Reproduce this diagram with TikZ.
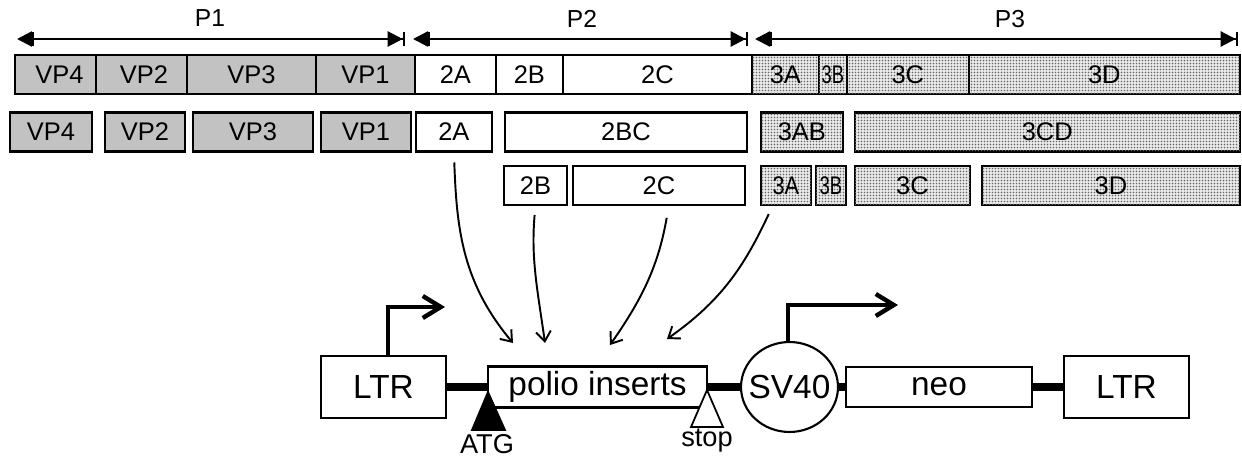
\documentclass[tikz,border=0pt]{standalone}
\usepackage{fontspec}
\setmainfont{Liberation Sans}
\usepackage{graphicx}
\usetikzlibrary{arrows.meta,positioning,calc,patterns.meta,shapes.geometric}
\definecolor{Capsid}{HTML}{C2C2C2}
\definecolor{Dotbg}{HTML}{EAEAEA}
\tikzdeclarepattern{
    name=finedots, type=uncolored,
    bounding box={(0,0) and (1.7pt,1.7pt)},
    tile size={(1.7pt,1.7pt)},
    code={\fill (0.85pt,0.85pt) circle (0.45pt);}
}
\tikzset{
    every node/.style={font=\fontsize{14.5}{16}\selectfont},
    segbox/.style={
        draw=black, line width=1.3pt, fill=white,
        minimum height=0.78cm, inner sep=0pt, outer sep=0pt,
        anchor=west
    },
    capsid/.style={segbox, fill=Capsid},
    nonstruct/.style={segbox},
    replic/.style={segbox, fill=Dotbg,
        postaction={pattern=finedots, pattern color=black!60}},
    spanarrow/.style={
        {Triangle[length=0.3cm,width=0.3cm]Bar[width=0.28cm]}-{Triangle[length=0.3cm,width=0.3cm]Bar[width=0.28cm]},
        line width=1.3pt
    },
    spanlabel/.style={font=\fontsize{14}{15}\selectfont},
    vecbox/.style={
        draw=black, line width=1.2pt, fill=white, inner sep=0pt,
        font=\fontsize{19}{20}\selectfont
    },
    backbone/.style={line width=4pt},
    promoter/.style={
        -{Straight Barb[length=0.36cm,width=0.44cm]}, line width=2.5pt
    },
    insarrow/.style={
        -{Straight Barb[length=0.2cm,width=0.3cm]}, line width=1.1pt
    },
    markertext/.style={font=\fontsize{15.5}{17}\selectfont},
}

\begin{document}
\begin{tikzpicture}[x=0.02cm,y=0.02cm]
    \useasboundingbox (0,0) rectangle (1242,-459);

    % Polyprotein
    \node[capsid, minimum width=1.62cm] (vpfourA) at (15,-74.5) {\hspace*{0.16cm}VP4};
    \node[capsid, minimum width=1.82cm, right=0pt of vpfourA] (vptwoA) {\hspace*{0.1cm}VP2};
    \node[capsid, minimum width=2.58cm, right=0pt of vptwoA] (vpthreeA) {VP3};
    \node[capsid, minimum width=1.98cm, right=0pt of vpthreeA] (vponeA) {VP1};
    \node[nonstruct, minimum width=1.62cm, right=0pt of vponeA] (twoaA) {2A};
    \node[nonstruct, minimum width=1.34cm, right=0pt of twoaA] (twobA) {2B};
    \node[nonstruct, minimum width=3.78cm, right=0pt of twobA] (twocA) {2C};
    \node[replic, minimum width=1.34cm, right=0pt of twocA] (threeaA) {3A};
    \node[replic, minimum width=0.56cm, right=0pt of threeaA] (threebA) {\scalebox{0.72}[1]{3B}};
    \node[replic, minimum width=2.44cm, right=0pt of threebA] (threecA) {3C};
    \node[replic, minimum width=5.42cm, right=0pt of threecA] (threedA) {3D};

    % Precursors
    \node[capsid, minimum width=1.64cm] (vpfourB) at (10,-132) {VP4};
    \node[capsid, minimum width=1.60cm, right=0.26cm of vpfourB] (vptwoB) {VP2};
    \node[capsid, minimum width=2.40cm, right=0.16cm of vptwoB] (vpthreeB) {VP3};
    \node[capsid, minimum width=1.80cm, right=0.16cm of vpthreeB] (vponeB) {VP1};
    \node[nonstruct, minimum width=1.52cm, right=0.10cm of vponeB] (twoaB) {2A};
    \node[nonstruct, minimum width=4.84cm, right=0.26cm of twoaB] (twobcB) {2BC};
    \node[replic, minimum width=1.64cm, right=0.28cm of twobcB] (threeabB) {3AB};
    \node[replic, minimum width=7.70cm, right=0.24cm of threeabB] (threecdB) {3CD};

    % Cleavage products
    \node[nonstruct, minimum width=1.26cm] (twobC) at (504,-185.5) {2B};
    \node[nonstruct, minimum width=3.44cm, right=0.12cm of twobC] (twocC) {2C};
    \node[replic, minimum width=1.00cm, right=0.32cm of twocC] (threeaC) {\scalebox{0.85}[1]{3A}};
    \node[replic, minimum width=0.60cm, right=0.10cm of threeaC] (threebC) {\scalebox{0.72}[1]{3B}};
    \node[replic, minimum width=2.30cm, right=0.18cm of threebC] (threecC) {3C};
    \node[replic, minimum width=5.16cm, right=0.24cm of threecC] (threedC) {3D};

    % Regions
    \coordinate (ponebeg) at (17,-39);
    \coordinate (poneend) at (405,-39);
    \coordinate (ptwobeg) at (413,-39);
    \coordinate (ptwoend) at (748,-39);
    \coordinate (pthreebeg) at (755,-39);
    \coordinate (pthreeend) at (1238,-39);
    \draw[spanarrow] (ponebeg) -- (poneend);
    \draw[spanarrow] (ptwobeg) -- (ptwoend);
    \draw[spanarrow] (pthreebeg) -- (pthreeend);
    \node[spanlabel] (pone) at (210,-18) {P1};
    \node[spanlabel] (ptwo) at (582,-19) {P2};
    \node[spanlabel] (pthree) at (1010,-19) {P3};

    % Vector
    \node[vecbox, minimum width=2.5cm, minimum height=1.24cm] (ltrA) at (383.5,-387) {LTR};
    \node[vecbox, minimum width=4.38cm, minimum height=0.82cm] (polio) at (597.5,-387) {polio inserts};
    \node[vecbox, ellipse, minimum width=1.94cm, minimum height=1.8cm,
          label={[font=\fontsize{19}{20}\selectfont]center:SV40}] (sv40) at (789.5,-387) {};
    \node[vecbox, minimum width=3.72cm, minimum height=0.8cm] (neo) at (939,-387) {neo};
    \node[vecbox, minimum width=2.5cm, minimum height=1.24cm] (ltrB) at (1126.5,-387) {LTR};

    \draw[backbone] (ltrA.east) -- (polio.west);
    \draw[backbone] (polio.east) -- (sv40.west);
    \draw[backbone] (sv40.east) -- (neo.west);
    \draw[backbone] (neo.east) -- (ltrB.west);

    % Promoters
    \coordinate (tssA) at (445,-307);
    \coordinate (tssB) at (898,-305);
    \draw[promoter] ([xshift=0.09cm]ltrA.north) |- (tssA);
    \draw[promoter] ([xshift=-0.03cm]sv40.north) |- (tssB);

    % Start and stop
    \coordinate (atgtip) at (488,-392);
    \coordinate (stoptip) at (707,-390);
    \filldraw[line width=1pt] (atgtip) -- ++(-16,-38) -- ++(33,0) -- cycle;
    \filldraw[line width=1pt, fill=white] (stoptip) -- ++(-16,-37) -- ++(32,0) -- cycle;
    \node[markertext] (atg) at (487,-444) {ATG};
    \node[markertext] (stop) at (707,-441) {stop};

    % Inserts
    \coordinate (insA) at (513,-343);
    \coordinate (insB) at (545,-343);
    \coordinate (insC) at (610,-345);
    \coordinate (insD) at (667,-339);
    \draw[insarrow, shorten <=0.22cm] (twoaB.south) to[out=-88, in=130] (insA);
    \draw[insarrow, shorten <=0.2cm] (twobC.south) to[out=-95, in=98] (insB);
    \draw[insarrow, shorten <=0.26cm] ([xshift=0.2cm]twocC.south) to[out=-100, in=55] (insC);
    \draw[insarrow, shorten <=0.2cm] ([xshift=-0.26cm]threeaC.south) to[out=-115, in=35] (insD);
\end{tikzpicture}
\end{document}
